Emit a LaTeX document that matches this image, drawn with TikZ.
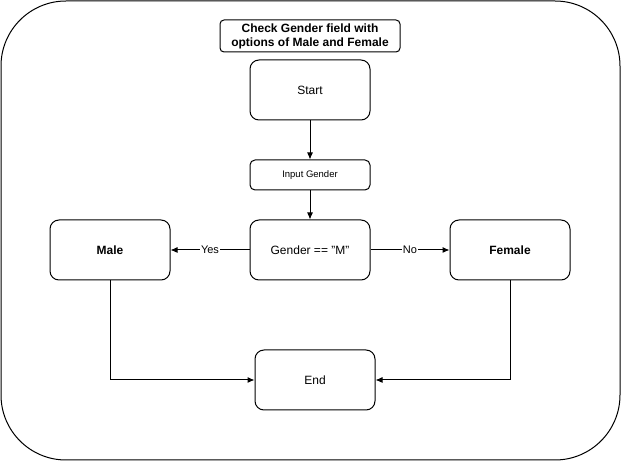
\documentclass[tikz,border=0pt]{standalone}
\usepackage{fontspec}
\setmainfont{Liberation Sans}
\usetikzlibrary{arrows.meta}

\begin{document}
\begin{tikzpicture}[x=1pt,y=-1pt,
  box/.style={draw,line width=1pt,rounded corners=9pt,minimum width=120pt,minimum height=60pt,
              inner sep=0pt,font=\fontsize{12}{14}\selectfont,align=center},
  smallbox/.style={box,minimum height=30pt,rounded corners=5pt,font=\fontsize{9.5}{11}\selectfont},
  flow/.style={line width=1pt,-{Latex[length=7pt,width=6pt]}},
  lbl/.style={fill=white,inner sep=1pt,font=\fontsize{11}{13}\selectfont}]

  \useasboundingbox (0,0) rectangle (622,462);

  % frame
  \draw [line width=1pt,rounded corners=65pt] (1,1) rectangle (620,460);

  % title
  \node [box,minimum width=180pt,minimum height=32pt,rounded corners=4pt,font=\bfseries\fontsize{12}{14}\selectfont]
        (title) at (310, 36) {Check Gender field with\\options of Male and Female};

  % steps
  \node [box]      (start)  at (310,  90) {Start};
  \node [smallbox] (input)  at (310, 175) {Input Gender};
  \node [box]      (check)  at (310, 250) {Gender == "M"};
  \node [box,font=\bfseries\fontsize{12}{14}\selectfont] (male)   at (110, 250) {Male};
  \node [box,font=\bfseries\fontsize{12}{14}\selectfont] (female) at (510, 250) {Female};
  \node [box]      (end)    at (315, 380) {End};

  % arrows
  \draw [flow] (start) -- (input);
  \draw [flow] (input) -- (check);
  \draw [flow] (check) -- node [lbl] {Yes} (male);
  \draw [flow] (check) -- node [lbl] {No}  (female);
  \draw [flow] (male)   |- (end);
  \draw [flow] (female) |- (end);

\end{tikzpicture}
\end{document}
